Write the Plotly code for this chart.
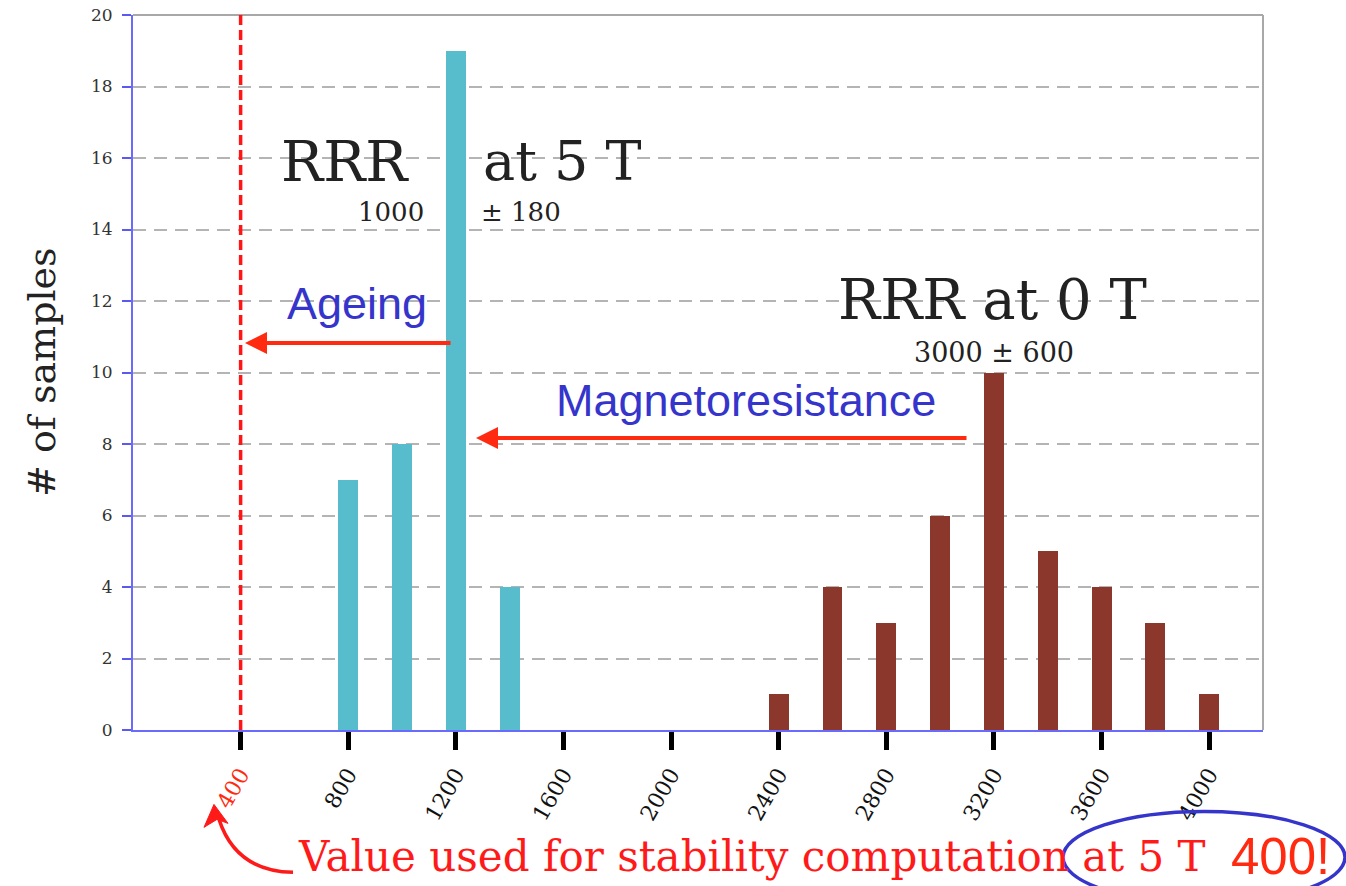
import plotly.graph_objects as go

# ---- data ----
rrr5_x = [800, 1000, 1200, 1400]
rrr5_counts = [7, 8, 19, 4]
rrr0_x = [2400, 2600, 2800, 3000, 3200, 3400, 3600, 3800, 4000]
rrr0_counts = [1, 4, 3, 6, 10, 5, 4, 3, 1]
x_ticks = [400, 800, 1200, 1600, 2000, 2400, 2800, 3200, 3600, 4000]
y_ticks = [0, 2, 4, 6, 8, 10, 12, 14, 16, 18, 20]
stability_value = 400

CYAN = "#57bccc"
BROWN = "#8b372c"
RED = "#ff2a10"
BLUE = "#3535cc"
SERIF = "DejaVu Serif"
SANS = "Liberation Sans"

W, H = 1346, 886
L, R, T, B = 133, 1263, 14.5, 730.5


def px(x):
    return (x - L) / (R - L)


def py(y):
    return (B - y) / (B - T)


fig = go.Figure()
fig.add_trace(go.Bar(x=rrr5_x, y=rrr5_counts, width=74, marker=dict(color=CYAN, line=dict(width=0)),
                     showlegend=False))
fig.add_trace(go.Bar(x=rrr0_x, y=rrr0_counts, width=74, marker=dict(color=BROWN, line=dict(width=0)),
                     showlegend=False))

ticktext = [f"<span style='color:{RED}'>{v}</span>" if v == stability_value else str(v) for v in x_ticks]

fig.update_layout(
    width=W, height=H,
    margin=dict(l=L, r=W - R, t=T, b=H - B, autoexpand=False),
    plot_bgcolor="white", paper_bgcolor="white",
    bargap=0,
    xaxis=dict(range=[0, 4200], tickmode="array", tickvals=x_ticks, ticktext=ticktext,
               tickangle=-60, ticks="outside", ticklen=18, tickwidth=5, tickcolor="black",
               showgrid=False, zeroline=False, showline=True, linecolor="#6a6aff", linewidth=2,
               automargin=False, ticklabelstandoff=3,
               tickfont=dict(family=SERIF, size=22, color="#111")),
    yaxis=dict(range=[0, 20], tickmode="array", tickvals=y_ticks, ticks="outside", ticklen=9,
               tickwidth=2, tickcolor="#5a5aee", showgrid=True, gridcolor="#b4b4b4", gridwidth=2,
               griddash="13px,8px", zeroline=False, showline=True, linecolor="#6a6aff", linewidth=2,
               automargin=False, ticklabelstandoff=6,
               tickfont=dict(family=SERIF, size=17, color="#333")),
)

# frame (top / right)
fig.add_shape(type="line", xref="paper", yref="paper", x0=0, x1=1, y0=1, y1=1,
              line=dict(color="#a8a8a8", width=2))
fig.add_shape(type="line", xref="paper", yref="paper", x0=1, x1=1, y0=0, y1=1,
              line=dict(color="#a8a8a8", width=2))

# red dashed stability line
fig.add_shape(type="line", xref="x", yref="y", x0=stability_value, x1=stability_value, y0=0, y1=20,
              line=dict(color="#ff1515", width=3.5, dash="10px,5px"))


def ann(text, x, y, size, color="black", family=SERIF, xanchor="center", **kw):
    fig.add_annotation(text=text, xref="paper", yref="paper", x=px(x), y=py(y), showarrow=False,
                       xanchor=xanchor, yanchor="middle",
                       font=dict(family=family, size=size, color=color), **kw)


ann("RRR", 345, 161, 56, color="#222")
ann("at 5 T", 562, 161, 54, color="#222")
ann("1000", 391, 212, 26, color="#222")
ann("± 180", 521, 212, 26, color="#222")
ann("RRR at 0 T", 992, 299, 56, color="#222")
ann("3000 ± 600", 994, 352, 27, color="#222")
ann("Ageing", 357, 303, 45, color=BLUE, family=SANS)
ann("Magnetoresistance", 746, 401, 45, color=BLUE, family=SANS)
ann("# of samples", 42, 372, 38, color="#222", textangle=-90)


# arrows (head position in paper coords, tail as pixel offset)
def arrow(head_x, tail_x, y):
    fig.add_annotation(x=px(head_x), y=py(y), xref="paper", yref="paper",
                       ax=tail_x - head_x, ay=0, axref="pixel", ayref="pixel",
                       showarrow=True, arrowhead=2, arrowsize=1.1, arrowwidth=4,
                       arrowcolor=RED, text="", standoff=0, startstandoff=0)


arrow(245, 452, 343)
arrow(476, 968, 438)

# bottom note
ann("Value used for stability computation at 5 T", 296, 857, 42, color="#ff1a1a", xanchor="left")
ann("400!", 1280, 857, 51, color=RED, family=SANS)

# ellipse
fig.add_shape(type="circle", xref="paper", yref="paper", x0=px(1063), x1=px(1345), y0=py(904),
              y1=py(812), line=dict(color=BLUE, width=3.5))


# curved arrow towards the 400 label
def pt(x, y):
    return f"{px(x):.5f},{py(y):.5f}"


fig.add_shape(type="path", xref="paper", yref="paper",
              path=f"M {pt(293, 873)} Q {pt(236, 872)} {pt(219, 820)}",
              line=dict(color="#ff1a1a", width=3.5))
fig.add_shape(type="path", xref="paper", yref="paper",
              path=f"M {pt(214, 805)} L {pt(204, 828)} L {pt(217, 820)} L {pt(228, 824)} Z",
              fillcolor="#ff1a1a", line=dict(color="#ff1a1a", width=1))

fig.write_html("out.html", config={"displayModeBar": False},
               post_script="document.body.style.margin='0';document.body.style.overflow='hidden';")
